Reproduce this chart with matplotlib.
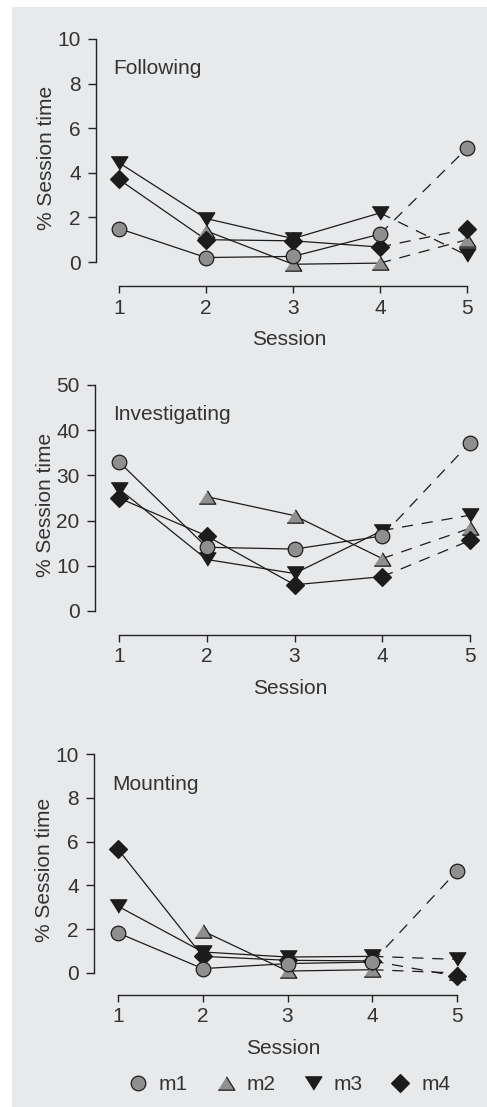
import matplotlib
matplotlib.use('Agg')
import matplotlib.pyplot as plt
from matplotlib.lines import Line2D
from matplotlib.patches import Rectangle
import numpy as np

sessions = [1, 2, 3, 4, 5]
animals = ['m1', 'm2', 'm3', 'm4']

# % session time per animal, sessions 1-5 (nan = not recorded)
following_m1 = [1.5, 0.2, 0.25, 1.25, 5.1]
following_m2 = [np.nan, 1.4, -0.1, -0.05, 1.0]
following_m3 = [4.45, 1.95, 1.05, 2.2, 0.3]
following_m4 = [3.7, 1.0, 0.95, 0.67, 1.48]

investigating_m1 = [33.0, 14.1, 13.7, 16.6, 37.2]
investigating_m2 = [np.nan, 25.3, 21.1, 11.6, 18.3]
investigating_m3 = [27.0, 11.4, 8.3, 17.8, 21.2]
investigating_m4 = [25.0, 16.6, 5.8, 7.6, 15.6]

mounting_m1 = [1.83, 0.2, 0.43, 0.5, 4.65]
mounting_m2 = [np.nan, 1.92, 0.09, 0.15, 0.0]
mounting_m3 = [3.05, 0.96, 0.73, 0.76, 0.62]
mounting_m4 = [5.65, 0.76, 0.58, 0.55, -0.15]

W, H = 487, 1107
GRAY = '#8f8f8f'
BLACK = '#1c1c1c'
TXT = '#333333'
FS = 15
plt.rcParams['font.family'] = ['Liberation Sans', 'DejaVu Sans']

tri_up = [(-1, -0.8), (1, -0.8), (0, 0.8)]
tri_dn = [(-1, 0.8), (1, 0.8), (0, -0.8)]
styles = {
    'm1': dict(marker='o', ms=10.5, mfc=GRAY),
    'm2': dict(marker=tri_up, ms=12, mfc=GRAY),
    'm3': dict(marker=tri_dn, ms=12, mfc=BLACK),
    'm4': dict(marker='D', ms=9.5, mfc=BLACK),
}
zorders = {'m1': 6, 'm2': 3, 'm3': 4, 'm4': 5}

fig = plt.figure(figsize=(W / 100, H / 100), dpi=100)
fig.patch.set_facecolor('white')
fig.patches.append(Rectangle((12 / W, 0), 1, 1 - 7 / H, transform=fig.transFigure,
                             facecolor='#e8e9eb', edgecolor='none', zorder=-10))


def make_panel(title, series, ymax, ystep, spine_x, x1, x5, ytop, y0, xaxis_y):
    u = (x5 - x1) / 4.0
    v = (y0 - ytop) / ymax
    right_px = x5 + 16
    top_px = ytop - 10
    ax = fig.add_axes([spine_x / W, 1 - xaxis_y / H, (right_px - spine_x) / W,
                       (xaxis_y - top_px) / H])
    ax.set_facecolor('none')
    ax.set_xlim(1 - (x1 - spine_x) / u, 5 + 16 / u)
    ax.set_ylim(-(xaxis_y - y0) / v, ymax + 10 / v)

    for name, vals in zip(animals, series):
        st = styles[name]
        ax.plot(sessions[:4], vals[:4], color=BLACK, lw=0.9, zorder=2)
        ax.plot(sessions[3:], vals[3:], color=BLACK, lw=0.9, ls=(0, (9, 7)), zorder=2)
        ax.plot(sessions, vals, ls='none', marker=st['marker'], ms=st['ms'],
                mfc=st['mfc'], mec=BLACK, mew=0.9, zorder=zorders[name], clip_on=False)

    for s in ['top', 'right']:
        ax.spines[s].set_visible(False)
    ax.spines['left'].set_bounds(0, ymax)
    ax.spines['bottom'].set_bounds(1, 5)
    for s in ['left', 'bottom']:
        ax.spines[s].set_color('#222222')
        ax.spines[s].set_linewidth(1.0)
    ax.set_yticks(np.arange(0, ymax + 1, ystep))
    ax.set_xticks(sessions)
    ax.tick_params(axis='y', length=6, width=1.0, pad=5, labelsize=FS,
                   color='#222222', labelcolor=TXT)
    ax.tick_params(axis='x', length=5, width=1.0, pad=4, labelsize=FS,
                   color='#222222', labelcolor=TXT)
    ax.set_ylabel('% Session time', fontsize=FS, color=TXT, labelpad=1)
    ax.set_xlabel('Session', fontsize=FS, color=TXT, labelpad=9)
    ax.text(1 - 6 / u, ymax - 30 / v, title, fontsize=FS, color=TXT,
            ha='left', va='center')
    return ax


make_panel('Following', [following_m1, following_m2, following_m3, following_m4],
           10, 2, 96, 119, 467, 39, 262, 286)
make_panel('Investigating', [investigating_m1, investigating_m2, investigating_m3, investigating_m4],
           50, 10, 95, 119, 470, 385, 611, 635)
make_panel('Mounting', [mounting_m1, mounting_m2, mounting_m3, mounting_m4],
           10, 2, 94, 118, 457, 754, 973, 995)

handles = []
for name in animals:
    st = styles[name]
    handles.append(Line2D([], [], ls='none', marker=st['marker'], ms=st['ms'],
                          mfc=st['mfc'], mec=BLACK, mew=0.9))
fig.legend(handles, animals, loc='center', bbox_to_anchor=(289 / W, 1 - 1085 / H),
           ncol=4, frameon=False, fontsize=FS, handlelength=1.0, handletextpad=0.5,
           columnspacing=1.3, labelcolor=TXT)

fig.savefig('out.png', dpi=100, facecolor=fig.get_facecolor())
